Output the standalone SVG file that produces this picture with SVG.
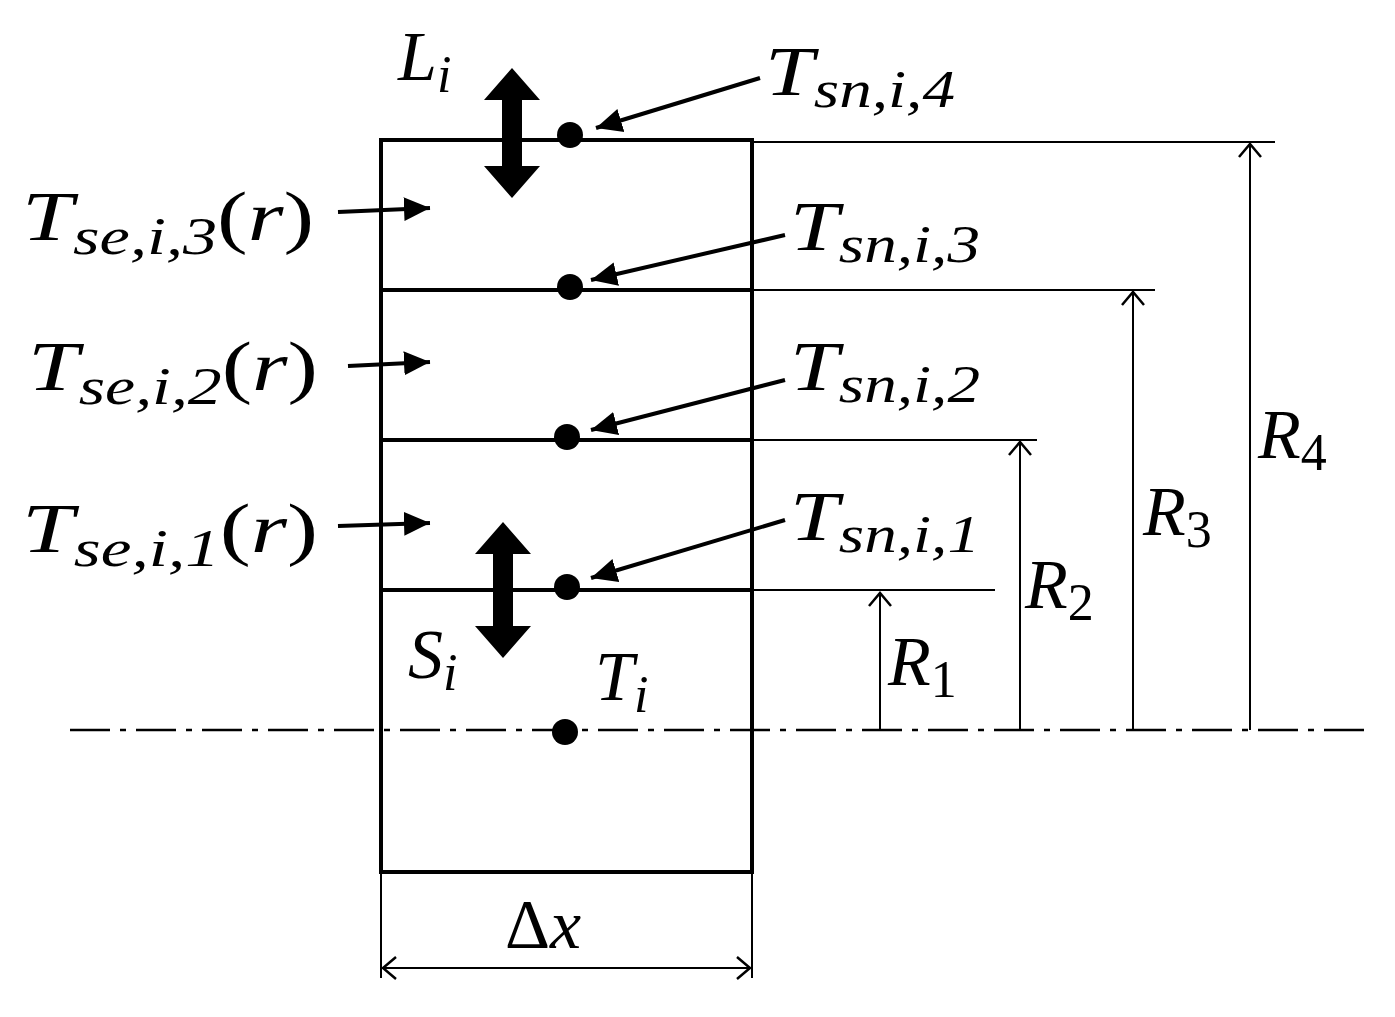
<svg xmlns="http://www.w3.org/2000/svg" width="1395" height="1017" viewBox="0 0 1395 1017">
<style>
.t{font-family:"Liberation Serif",serif;font-style:italic;font-size:70px;fill:#000}
.s{font-size:52px}
.p{font-style:normal}
.thin{stroke:#000;stroke-width:2;fill:none}
.thick{stroke:#000;stroke-width:4;fill:none}
</style>
<defs>
<marker id="oa" viewBox="-14 -12 16 24" refX="0" refY="0" markerWidth="16" markerHeight="24" orient="auto-start-reverse" markerUnits="userSpaceOnUse"><path d="M-13,-11 L0,0 L-13,11" stroke="#000" stroke-width="2.5" fill="none"/></marker>
<marker id="da" viewBox="-26 -13 28 26" refX="0" refY="0" markerWidth="28" markerHeight="26" orient="auto" markerUnits="userSpaceOnUse"><path d="M-26,-12 L0,0 L-26,12 Z" fill="#000"/></marker>
</defs>
<g id="body">
<rect x="381" y="140" width="371" height="732" class="thick"/>
<line x1="381" y1="290" x2="752" y2="290" class="thick"/>
<line x1="381" y1="440" x2="752" y2="440" class="thick"/>
<line x1="381" y1="590" x2="752" y2="590" class="thick"/>
</g>
<g id="dots">
<circle cx="570" cy="135" r="13"/><circle cx="570" cy="287" r="13"/><circle cx="567" cy="437" r="13"/><circle cx="567" cy="587" r="13"/><circle cx="565" cy="732" r="13"/>
</g>
<g id="connectors">
<line x1="70" y1="730" x2="1365" y2="730" stroke="#000" stroke-width="2.5" stroke-dasharray="40,10,6,10"/>
<line x1="752" y1="142" x2="1275" y2="142" class="thin"/>
<line x1="752" y1="290" x2="1155" y2="290" class="thin"/>
<line x1="752" y1="440" x2="1037" y2="440" class="thin"/>
<line x1="752" y1="590" x2="995" y2="590" class="thin"/>
<line x1="880" y1="730" x2="880" y2="593" class="thin" marker-end="url(#oa)"/>
<line x1="1020" y1="730" x2="1020" y2="442" class="thin" marker-end="url(#oa)"/>
<line x1="1133" y1="730" x2="1133" y2="292" class="thin" marker-end="url(#oa)"/>
<line x1="1250" y1="730" x2="1250" y2="144" class="thin" marker-end="url(#oa)"/>
<path d="M512,68 L540,100 L522,100 L522,166 L540,166 L512,198 L484,166 L502,166 L502,100 L484,100 Z" fill="#000"/>
<path d="M503,522 L531,554 L513,554 L513,626 L531,626 L503,658 L475,626 L493,626 L493,554 L475,554 Z" fill="#000"/>
<line x1="760" y1="78" x2="596" y2="128" stroke="#000" stroke-width="4" marker-end="url(#da)"/>
<line x1="785" y1="235" x2="591" y2="280" stroke="#000" stroke-width="4" marker-end="url(#da)"/>
<line x1="785" y1="380" x2="591" y2="430" stroke="#000" stroke-width="4" marker-end="url(#da)"/>
<line x1="785" y1="520" x2="591" y2="578" stroke="#000" stroke-width="4" marker-end="url(#da)"/>
<line x1="338" y1="212" x2="430" y2="208" stroke="#000" stroke-width="4" marker-end="url(#da)"/>
<line x1="348" y1="366" x2="430" y2="362" stroke="#000" stroke-width="4" marker-end="url(#da)"/>
<line x1="338" y1="526" x2="430" y2="523" stroke="#000" stroke-width="4" marker-end="url(#da)"/>
<line x1="381" y1="872" x2="381" y2="978" class="thin"/>
<line x1="752" y1="872" x2="752" y2="978" class="thin"/>
<line x1="383" y1="968" x2="750" y2="968" class="thin" marker-start="url(#oa)" marker-end="url(#oa)"/>
</g>
<g id="labels">
<text class="t" x="398" y="80">L<tspan class="s" dy="12">i</tspan></text>
<text class="t" x="765" y="95" textLength="190" lengthAdjust="spacingAndGlyphs">T<tspan class="s" dy="12">sn,i,4</tspan></text>
<text class="t" x="790" y="250" textLength="190" lengthAdjust="spacingAndGlyphs">T<tspan class="s" dy="12">sn,i,3</tspan></text>
<text class="t" x="790" y="390" textLength="190" lengthAdjust="spacingAndGlyphs">T<tspan class="s" dy="12">sn,i,2</tspan></text>
<text class="t" x="790" y="540" textLength="190" lengthAdjust="spacingAndGlyphs">T<tspan class="s" dy="12">sn,i,1</tspan></text>
<text class="t" x="22" y="240" textLength="292" lengthAdjust="spacingAndGlyphs">T<tspan class="s" dy="14">se,i,3</tspan><tspan class="p" dy="-14">(</tspan>r<tspan class="p">)</tspan></text>
<text class="t" x="28" y="390" textLength="290" lengthAdjust="spacingAndGlyphs">T<tspan class="s" dy="14">se,i,2</tspan><tspan class="p" dy="-14">(</tspan>r<tspan class="p">)</tspan></text>
<text class="t" x="22" y="552" textLength="296" lengthAdjust="spacingAndGlyphs">T<tspan class="s" dy="14">se,i,1</tspan><tspan class="p" dy="-14">(</tspan>r<tspan class="p">)</tspan></text>
<text class="t" x="408" y="678">S<tspan class="s" dy="12">i</tspan></text>
<text class="t" x="595" y="700">T<tspan class="s" dy="12">i</tspan></text>
<text class="t" x="888" y="685">R<tspan class="s" dy="12" font-style="normal">1</tspan></text>
<text class="t" x="1025" y="608">R<tspan class="s" dy="12" font-style="normal">2</tspan></text>
<text class="t" x="1143" y="535">R<tspan class="s" dy="12" font-style="normal">3</tspan></text>
<text class="t" x="1258" y="458">R<tspan class="s" dy="12" font-style="normal">4</tspan></text>
<text class="t" x="505" y="948"><tspan class="p">Δ</tspan>x</text>
</g>
</svg>
